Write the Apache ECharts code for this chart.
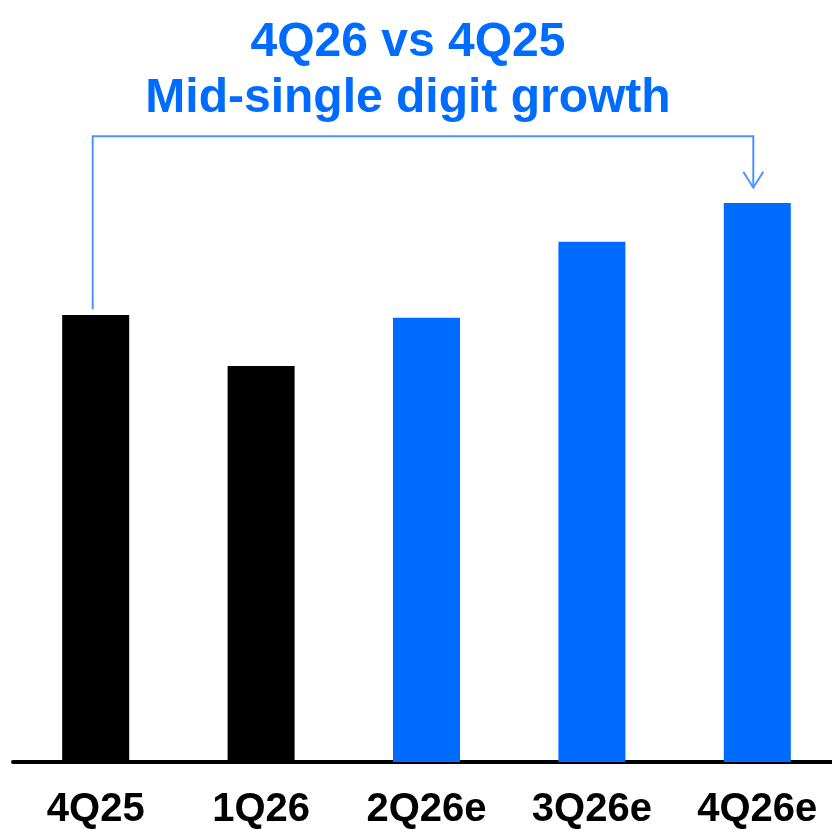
<!DOCTYPE html>
<html>
<head>
<meta charset="utf-8">
<script src="https://cdn.jsdelivr.net/npm/echarts@6/dist/echarts.min.js"></script>
<style>
  html, body { margin: 0; padding: 0; background: #ffffff; overflow: hidden; }
  #chart { width: 840px; height: 830px; }
</style>
</head>
<body>
<div id="chart"></div>
<script>
// ---- data ----
const categories = ['4Q25', '1Q26', '2Q26e', '3Q26e', '4Q26e'];
const values = [100, 88.6, 99.4, 116.4, 125.1];           // relative (4Q25 = 100)
const actualFlags = [true, true, false, false, false];      // actual vs estimate
const titleLines = ['4Q26 vs 4Q25', 'Mid-single digit growth'];
const connectorFrom = '4Q25';
const connectorTo = '4Q26e';
const connectorStartValue = 101.3;   // just above the 4Q25 bar
const connectorLevelValue = 140;     // top of the bracket
const connectorTipValue = 128.5;     // arrow tip just above the 4Q26e bar

// ---- styles ----
const BLUE = '#006BFF';
const LINE_BLUE = '#4D93FF';
const BLACK = '#000000';
const FONT = '"Liberation Sans", Arial, Helvetica, sans-serif';
const Y_MAX = 140;

const chart = echarts.init(document.getElementById('chart'), null, { renderer: 'canvas' });

const option = {
  backgroundColor: '#ffffff',
  animation: false,
  title: {
    text: titleLines.join('\n'),
    left: 408,
    top: 15,
    padding: 0,
    textAlign: 'center',
    textStyle: {
      color: BLUE,
      fontFamily: FONT,
      fontWeight: 'bold',
      fontSize: 48,
      lineHeight: 56
    }
  },
  grid: {
    left: 13,
    right: 0,
    bottom: 63,
    top: 136.3,
    containLabel: false
  },
  xAxis: {
    type: 'category',
    data: categories,
    axisLine: { show: true, lineStyle: { color: BLACK, width: 4 } },
    axisTick: { show: false },
    axisLabel: {
      color: BLACK,
      fontFamily: FONT,
      fontWeight: 'bold',
      fontSize: 40,
      margin: 28,
      interval: 0
    },
    splitLine: { show: false }
  },
  yAxis: {
    type: 'value',
    min: 0,
    max: Y_MAX,
    show: false,
    splitLine: { show: false }
  },
  series: [{
    type: 'bar',
    barWidth: 67,
    data: values.map((v, i) => ({
      value: v,
      itemStyle: { color: actualFlags[i] ? BLACK : BLUE }
    })),
    label: { show: false },
    silent: true
  }]
};

chart.setOption(option);

function drawConnector() {
  const xFrom = chart.convertToPixel({ xAxisIndex: 0 }, connectorFrom) - 3;
  const xTo = chart.convertToPixel({ xAxisIndex: 0 }, connectorTo) - 4;
  const yStart = chart.convertToPixel({ yAxisIndex: 0 }, connectorStartValue);
  const yLevel = chart.convertToPixel({ yAxisIndex: 0 }, connectorLevelValue);
  const yTip = chart.convertToPixel({ yAxisIndex: 0 }, connectorTipValue);
  const headW = 10, headH = 16;
  chart.setOption({
    graphic: [
      {
        type: 'polyline',
        silent: true,
        shape: { points: [[xFrom, yStart], [xFrom, yLevel], [xTo, yLevel], [xTo, yTip]] },
        style: { stroke: LINE_BLUE, lineWidth: 2, fill: null }
      },
      {
        type: 'polyline',
        silent: true,
        shape: { points: [[xTo - headW, yTip - headH], [xTo, yTip], [xTo + headW, yTip - headH]] },
        style: { stroke: LINE_BLUE, lineWidth: 2, fill: null }
      }
    ]
  });
}
drawConnector();
</script>
</body>
</html>
